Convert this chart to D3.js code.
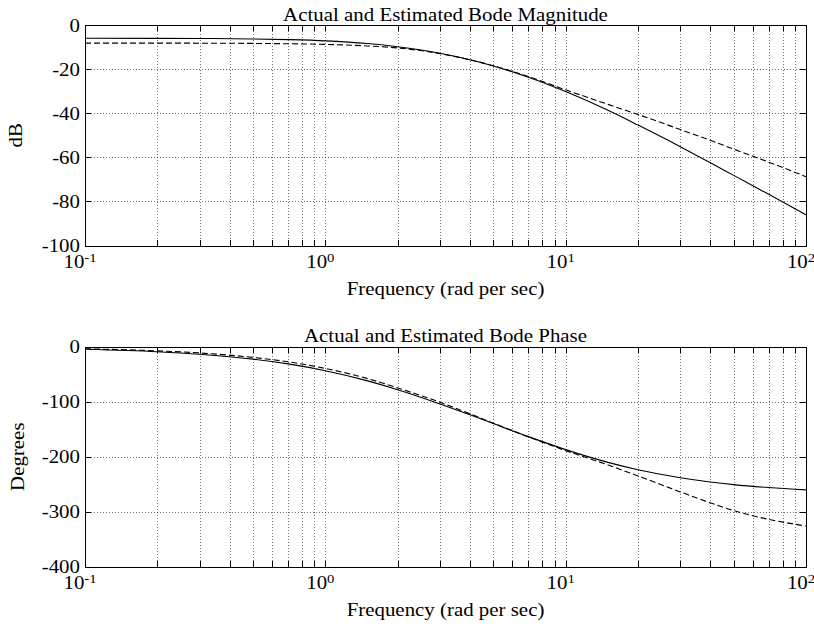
<!DOCTYPE html>
<html>
<head>
<meta charset="utf-8">
<style>
  body { margin: 0; background: #fff; }
  text { font-family: "Liberation Serif", "Times New Roman", serif; font-size: 18.5px; fill: #000; }
  .grid line { stroke: #000; stroke-opacity: 0.55; stroke-dasharray: 1,2; shape-rendering: crispEdges; }
  .tick line, .frame { stroke: #000; stroke-width: 1; shape-rendering: crispEdges; }
</style>
</head>
<body>
<script src="https://d3js.org/d3.v7.min.js"></script>
<script>
// frequencies (rad/sec) where the curves were read
var freq = [0.1, 0.2, 0.3, 0.5, 0.7, 1, 1.5, 2, 3, 4, 5, 7, 10, 15, 20, 30, 40, 50, 70, 100];

// magnitude in dB
var magActual = [-6.03, -6.07, -6.11, -6.33, -6.63, -7.18, -8.42, -9.85, -12.85, -15.8, -18.6, -23.7, -30.2, -38.7, -45.4, -55.2, -62.5, -68.2, -76.8, -86.1];
var magEstimated = [-8.2, -8.2, -8.25, -8.35, -8.5, -8.8, -9.5, -10.4, -13.0, -15.8, -18.5, -23.4, -29.4, -36.0, -40.6, -47.4, -52.3, -56.3, -62.2, -68.8];

// phase in degrees
var phaseActual = [-4.6, -9.1, -13.7, -22.6, -31.3, -43.6, -62.1, -78.1, -104.0, -123.9, -139.8, -163.5, -187.1, -210.3, -223.7, -238.3, -246.0, -250.7, -256.1, -260.3];
var phaseEstimated = [-3.8, -7.6, -11.4, -19.5, -27.5, -39.5, -58, -75, -101, -122, -139, -164, -189, -215, -235, -264, -284, -298, -314, -326];

var magTicks = [0, -20, -40, -60, -80, -100];
var phaseTicks = [0, -100, -200, -300, -400];
var decades = [-1, 0, 1, 2];

var W = 814, H = 631;
var left = 85, right = 806;
var sx = 1.13; // horizontal stretch of the text

var svg = d3.select("body").append("svg")
    .attr("width", W)
    .attr("height", H);

var x = d3.scaleLog().domain([0.1, 100]).range([left, right]);

// minor + major x grid values
var xGrid = [];
for (var e = -1; e < 2; e++) {
    for (var m = 1; m <= 9; m++) xGrid.push(m * Math.pow(10, e));
}
xGrid.push(100);

function addText(g, px, py, str, anchor, rot) {
    var t = g.append("text")
        .attr("text-anchor", anchor)
        .attr("transform", "translate(" + px + "," + py + ")" + (rot ? " rotate(-90)" : "") + " scale(" + sx + ",1)")
        .text(str);
    return t;
}

function drawPanel(top, bottom, yDomain, yTicks, series, title, ylabel, ylabelX) {
    var y = d3.scaleLinear().domain(yDomain).range([bottom, top]);
    var g = svg.append("g");

    // grid
    var grid = g.append("g").attr("class", "grid");
    grid.selectAll(".gx").data(xGrid.slice(1, -1)).enter().append("line")
        .attr("x1", function(d) { return Math.round(x(d)) + 0.5; })
        .attr("x2", function(d) { return Math.round(x(d)) + 0.5; })
        .attr("y1", top).attr("y2", bottom);
    grid.selectAll(".gy").data(yTicks.slice(1, -1)).enter().append("line")
        .attr("y1", function(d) { return Math.round(y(d)) + 0.5; })
        .attr("y2", function(d) { return Math.round(y(d)) + 0.5; })
        .attr("x1", left).attr("x2", right);

    // inward ticks on all four sides
    var ticks = g.append("g").attr("class", "tick");
    xGrid.forEach(function(d) {
        var px = Math.round(x(d)) + 0.5;
        ticks.append("line").attr("x1", px).attr("x2", px).attr("y1", top).attr("y2", top + 6);
        ticks.append("line").attr("x1", px).attr("x2", px).attr("y1", bottom).attr("y2", bottom - 6);
    });
    yTicks.forEach(function(d) {
        var py = Math.round(y(d)) + 0.5;
        ticks.append("line").attr("x1", left).attr("x2", left + 6).attr("y1", py).attr("y2", py);
        ticks.append("line").attr("x1", right).attr("x2", right - 6).attr("y1", py).attr("y2", py);
    });

    // frame
    g.append("rect").attr("class", "frame")
        .attr("x", left + 0.5).attr("y", Math.round(top) + 0.5)
        .attr("width", right - left).attr("height", Math.round(bottom) - Math.round(top))
        .attr("fill", "none");

    // curves
    var line = d3.line()
        .x(function(d) { return x(d[0]); })
        .y(function(d) { return y(d[1]); })
        .curve(d3.curveMonotoneX);
    series.forEach(function(s) {
        g.append("path")
            .datum(freq.map(function(f, i) { return [f, s.values[i]]; }))
            .attr("fill", "none")
            .attr("stroke", "#000")
            .attr("stroke-width", 1.1)
            .attr("stroke-dasharray", s.dash)
            .attr("d", line);
    });

    // y tick labels
    yTicks.forEach(function(d) {
        addText(g, 80, y(d) + 6.5, String(d), "end");
    });

    // x tick labels with exponent
    decades.forEach(function(p) {
        var t = addText(g, x(Math.pow(10, p)) - 5, bottom + 22, "", "middle");
        t.append("tspan").text("10");
        t.append("tspan").attr("dy", -6).style("font-size", "13px").text(String(p));
    });

    addText(g, (left + right) / 2, bottom + 49, "Frequency (rad per sec)", "middle");
    addText(g, (left + right) / 2, top - 4.5, title, "middle");
    addText(g, ylabelX, (top + bottom) / 2, ylabel, "middle", true);
}

drawPanel(25, 245.5, [-100, 0], magTicks,
    [{values: magActual, dash: null}, {values: magEstimated, dash: "6,3"}],
    "Actual and Estimated Bode Magnitude", "dB", 22);

drawPanel(346.7, 566.7, [-400, 0], phaseTicks,
    [{values: phaseActual, dash: null}, {values: phaseEstimated, dash: "6,3"}],
    "Actual and Estimated Bode Phase", "Degrees", 24);
</script>
</body>
</html>
